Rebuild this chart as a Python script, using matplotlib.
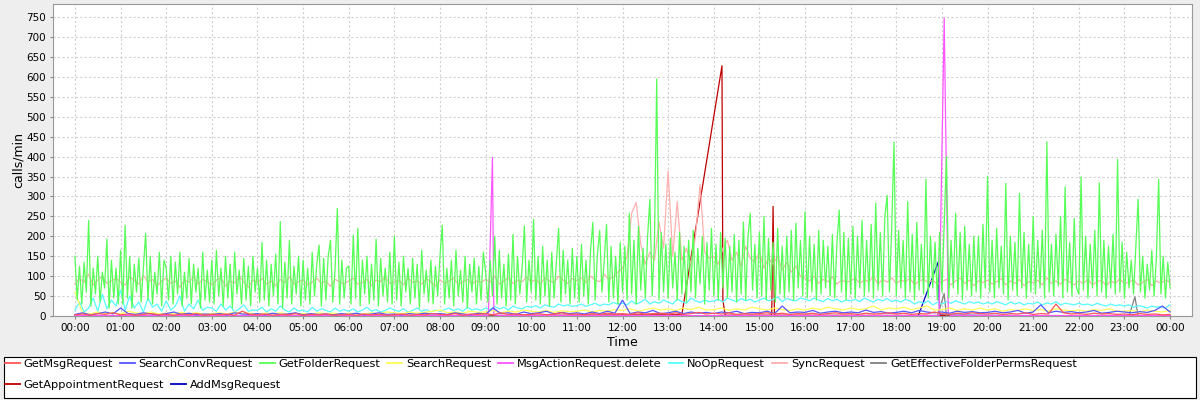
import numpy as np
import matplotlib
matplotlib.use("Agg")
import matplotlib.pyplot as plt
from matplotlib.patches import Rectangle

# serie - kolory jak w JFreeChart
names = ["GetMsgRequest", "SearchConvRequest", "GetFolderRequest", "SearchRequest",
         "MsgActionRequest.delete", "NoOpRequest", "SyncRequest",
         "GetEffectiveFolderPermsRequest", "GetAppointmentRequest", "AddMsgRequest"]
colors = ["#ff5555", "#5555ff", "#55ff55", "#ffff55", "#ff55ff", "#55ffff",
          "#ffafaf", "#808080", "#c00000", "#0000c0"]

hour_labels = ["%02d:00" % (h % 24) for h in range(25)]

# GetFolderRequest - co 3 minuty
green = [
    150, 40, 125, 30, 135, 60, 240, 25, 120, 55, 150, 35, 110, 70, 193, 20, 140, 45, 120, 30,
    165, 30, 228, 45, 150, 20, 130, 60, 145, 35, 120, 207, 40, 150, 30, 110, 55, 160, 25, 140,
    120, 40, 150, 30, 135, 55, 160, 25, 110, 45, 145, 30, 130, 60, 120, 20, 160, 40, 115, 35,
    140, 30, 165, 50, 120, 25, 150, 45, 130, 20, 160, 55, 115, 30, 145, 40, 125, 25, 150, 60,
    120, 35, 185, 40, 140, 25, 130, 50, 155, 30, 237, 20, 135, 45, 190, 30, 125, 55, 150, 25,
    140, 40, 120, 30, 160, 50, 130, 178, 25, 145, 40, 150, 190, 35, 115, 270, 30, 140, 45, 120,
    125, 30, 203, 45, 220, 25, 140, 55, 150, 30, 130, 40, 193, 25, 145, 50, 120, 35, 160, 30,
    200, 40, 135, 25, 150, 60, 120, 30, 145, 45, 130, 20, 165, 55, 115, 35, 140, 30, 125, 50,
    150, 228, 30, 120, 45, 140, 25, 165, 50, 115, 35, 150, 20, 130, 60, 145, 30, 125, 40, 160,
    110, 35, 140, 50, 200, 30, 165, 45, 130, 25, 155, 40, 205, 30, 150, 55, 120, 226, 35, 140,
    60, 243, 40, 150, 30, 175, 50, 140, 25, 160, 45, 135, 220, 35, 165, 55, 140, 30, 170, 45,
    150, 35, 180, 50, 140, 30, 165, 235, 40, 155, 215, 60, 140, 230, 35, 175, 45, 150, 30, 185,
    60, 175, 40, 258, 55, 190, 30, 225, 65, 170, 45, 200, 293, 50, 185, 595, 40, 210, 60, 180,
    45, 195, 70, 160, 40, 210, 55, 175, 35, 190, 60, 215, 45, 170, 80, 200, 30, 185, 65, 220,
    50, 180, 40, 210, 70, 195, 45, 175, 60, 205, 35, 190, 55, 236, 40, 200, 257, 65, 180, 45,
    210, 50, 250, 40, 195, 65, 185, 35, 220, 55, 175, 45, 200, 60, 215, 40, 233, 70, 190, 50,
    262, 45, 200, 60, 180, 40, 215, 55, 190, 70, 175, 50, 205, 45, 185, 266, 60, 210, 40, 195,
    55, 225, 45, 200, 70, 240, 50, 190, 60, 230, 45, 283, 65, 210, 50, 250, 303, 60, 220, 436,
    50, 215, 70, 190, 45, 287, 60, 205, 40, 235, 65, 180, 55, 343, 45, 200, 70, 185, 40, 210,
    60, 230, 400, 45, 190, 70, 258, 55, 210, 40, 225, 65, 180, 50, 200, 60, 200, 45, 230, 70,
    351, 60, 190, 45, 220, 70, 175, 55, 333, 40, 200, 65, 185, 50, 308, 70, 210, 45, 180, 60,
    250, 55, 190, 70, 215, 45, 437, 60, 180, 50, 205, 75, 250, 45, 324, 60, 185, 50, 245, 70,
    55, 349, 65, 200, 45, 180, 70, 215, 50, 334, 60, 190, 45, 175, 70, 205, 55, 393, 60, 185,
    45, 160, 70, 140, 55, 175, 293, 60, 150, 45, 130, 65, 165, 50, 145, 343, 55, 150, 45, 135,
    70]

# SyncRequest - co 6 minut
pink = [
    80, 95, 85, 105, 78, 90, 100, 82, 88, 95,
    85, 78, 98, 90, 80, 102, 86, 92, 75, 88,
    95, 82, 88, 72, 90, 85, 98, 80, 92, 86,
    78, 90, 96, 75, 88, 82, 100, 85, 72, 90,
    85, 94, 80, 88, 76, 92, 84, 98, 80, 86,
    90, 78, 85, 95, 82, 88, 74, 92, 86, 80,
    88, 95, 80, 84, 92, 76, 90, 86, 98, 82,
    85, 90, 78, 96, 84, 88, 80, 94, 86, 75,
    90, 82, 88, 95, 78, 86, 92, 80, 88, 84,
    92, 85, 100, 80, 88, 95, 82, 90, 86, 98,
    85, 92, 80, 96, 88, 84, 100, 90, 82, 94,
    88, 96, 84, 100, 90, 86, 105, 92, 98, 110,
    120, 150, 258, 285, 180, 130, 160, 140, 236, 170,
    364, 150, 287, 140, 170, 130, 200, 330, 160, 145,
    150, 130, 170, 190, 140, 160, 125, 175, 145, 135,
    160, 120, 145, 130, 150, 115, 135, 110, 125, 100,
    95, 88, 100, 82, 92, 86, 98, 80, 90, 85,
    88, 95, 82, 90, 86, 100, 80, 92, 85, 96,
    82, 90, 86, 95, 78, 88, 92, 84, 90, 80,
    86, 92, 78, 88, 95, 82, 90, 76, 88, 84,
    90, 80, 86, 94, 78, 88, 82, 92, 76, 86,
    84, 90, 78, 96, 82, 88, 80, 92, 86, 78,
    88, 82, 92, 78, 86, 90, 76, 88, 82, 94,
    80, 86, 90, 78, 84, 92, 76, 88, 82, 90,
    85]

# NoOpRequest - co 6 minut
cyan = [
    15, 35, 10, 20, 45, 12, 55, 18, 40, 25,
    65, 15, 50, 20, 35, 10, 45, 22, 30, 12,
    38, 15, 25, 50, 12, 30, 18, 40, 14, 22,
    20, 12, 30, 15, 25, 10, 18, 28, 12, 15,
    14, 22, 10, 18, 12, 25, 15, 10, 20, 12,
    15, 10, 22, 12, 18, 14, 10, 20, 12, 16,
    12, 18, 10, 15, 22, 12, 16, 10, 14, 20,
    15, 12, 18, 10, 14, 20, 12, 16, 10, 15,
    12, 16, 20, 14, 18, 12, 22, 15, 18, 14,
    20, 16, 24, 18, 22, 15, 25, 20, 18, 24,
    22, 26, 20, 28, 24, 22, 30, 25, 28, 24,
    26, 30, 24, 28, 32, 26, 30, 28, 34, 30,
    32, 28, 38, 30, 35, 42, 30, 36, 32, 40,
    35, 30, 42, 36, 32, 45, 38, 34, 40, 36,
    38, 42, 35, 45, 40, 36, 44, 38, 42, 35,
    40, 45, 38, 42, 48, 36, 44, 40, 38, 45,
    42, 38, 45, 40, 36, 44, 38, 42, 35, 40,
    38, 42, 36, 45, 40, 35, 42, 38, 44, 36,
    40, 35, 42, 38, 30, 36, 32, 38, 28, 34,
    30, 36, 32, 38, 34, 30, 36, 32, 35, 30,
    34, 30, 36, 32, 28, 35, 30, 34, 28, 32,
    30, 35, 28, 33, 30, 36, 28, 32, 30, 28,
    32, 28, 30, 26, 32, 28, 25, 30, 26, 28,
    25, 28, 22, 26, 24, 20, 25, 22, 24, 20,
    28]

# SearchRequest - co 10 minut
yellow = [
    60, 8, 5, 10, 6, 8,   5, 12, 8, 6, 10, 5,   7, 5, 9, 6, 8, 5,   6, 8, 5, 10, 6, 7,
    5, 7, 6, 8, 5, 6,     6, 5, 8, 6, 7, 5,     7, 6, 5, 8, 6, 10,  8, 6, 10, 7, 9, 12,
    15, 8, 10, 7, 12, 9,  10, 14, 8, 12, 10, 15, 12, 10, 14, 9, 13, 11, 12, 15, 10, 14, 12, 16,
    14, 18, 12, 16, 20, 15, 18, 14, 20, 16, 22, 15, 16, 20, 14, 18, 15, 22, 18, 15, 20, 16, 14, 18,
    15, 20, 16, 22, 18, 15, 20, 16, 18, 25, 15, 20, 18, 22, 16, 20, 25, 15, 16, 20, 14, 18, 15, 20,
    15, 18, 12, 16, 14, 18, 14, 16, 12, 18, 15, 13, 15, 12, 16, 14, 18, 12, 12, 14, 10, 15, 12, 10,
    14]

# GetMsgRequest - co 10 minut
red = [
    3, 5, 2, 6, 4, 8,   3, 5, 2, 4, 6, 3,   4, 2, 5, 3, 6, 2,   4, 3, 5, 2, 12, 4,
    3, 5, 2, 4, 3, 6,   2, 4, 3, 5, 2, 3,   4, 2, 5, 3, 4, 2,   3, 5, 2, 4, 3, 6,
    4, 3, 6, 2, 5, 4,   6, 3, 8, 4, 5, 3,   4, 6, 3, 5, 8, 4,   5, 3, 6, 4, 7, 5,
    6, 4, 8, 5, 6, 7,   5, 8, 4, 6, 9, 5,   7, 5, 8, 4, 6, 5,   6, 8, 5, 7, 4, 6,
    5, 7, 4, 6, 8, 5,   6, 4, 7, 5, 6, 8,   5, 7, 4, 6, 5, 10,  6, 4, 7, 5, 8, 6,
    5, 7, 4, 6, 5, 8,   4, 6, 5, 30, 8, 5,  6, 4, 7, 5, 6, 4,   5, 3, 6, 4, 5, 3,
    4]

# SearchConvRequest - co 10 minut
blue = [
    4, 8, 3, 6, 10, 5,   20, 6, 4, 8, 5, 3,   6, 10, 4, 7, 3, 5,   4, 6, 3, 8, 5, 4,
    6, 3, 7, 4, 5, 8,    3, 6, 4, 5, 3, 6,    4, 7, 3, 5, 8, 4,    5, 3, 6, 4, 7, 5,
    6, 4, 8, 5, 3, 7,    5, 20, 6, 8, 4, 10,  6, 8, 12, 5, 9, 6,   8, 5, 10, 6, 12, 7,
    40, 6, 10, 8, 14, 6, 8, 12, 6, 10, 7, 9,  6, 10, 8, 12, 6, 9,  8, 12, 6, 25, 8, 10,
    9, 14, 7, 10, 12, 8, 10, 8, 15, 9, 11, 7, 9, 12, 8, 14, 10, 8, 10, 7, 12, 9, 11, 8,
    9, 12, 8, 10, 14, 7, 10, 28, 8, 12, 9, 11, 8, 10, 14, 7, 9, 12, 10, 8, 11, 9, 14, 25,
    10]

# sporadyczne serie: (godzina, wartosc)
magenta_t = [0, 3, 6, 9.0, 9.06, 9.15, 9.18, 9.3, 12, 15, 18.9, 18.94, 19.05, 19.14, 19.2, 22, 24]
magenta_v = [1, 1, 1, 1, 2, 398, 3, 1, 1, 1, 1, 2, 747, 5, 1, 1, 1]
gray_t = [0, 6, 12, 18.9, 19.05, 19.1, 23.1, 23.23, 23.3, 24]
gray_v = [0, 0, 0, 0, 56, 0, 0, 48, 0, 0]
darkred_t = [0, 6, 13.3, 14.18, 14.2, 14.25, 15.27, 15.3, 15.33, 20, 24]
darkred_v = [0, 0, 3, 628, 40, 2, 2, 275, 2, 1, 1]
darkblue_t = [0, 6, 12, 18.48, 18.92, 18.95, 21, 24]
darkblue_v = [1, 1, 1, 0, 136, 2, 1, 1]

series = [
    (np.arange(len(red)) / 6.0, red),
    (np.arange(len(blue)) / 6.0, blue),
    (np.arange(len(green)) / 20.0, green),
    (np.arange(len(yellow)) / 6.0, yellow),
    (magenta_t, magenta_v),
    (np.arange(len(cyan)) / 10.0, cyan),
    (np.arange(len(pink)) / 10.0, pink),
    (gray_t, gray_v),
    (darkred_t, darkred_v),
    (darkblue_t, darkblue_v),
]

fig = plt.figure(figsize=(12, 4), dpi=100, facecolor="#eeeeee")
ax = fig.add_axes([0.0442, 0.21, 0.9491, 0.78])
ax.set_facecolor("white")

handles = [None] * len(series)
# pierwsza seria rysowana na koncu (na wierzchu)
for i in reversed(range(len(series))):
    t, v = series[i]
    handles[i], = ax.plot(t, v, color=colors[i], lw=0.9, zorder=10 - i)

ax.set_xlim(-0.48, 24.48)
ax.set_ylim(0, 783)
ax.set_xticks(range(25))
ax.set_xticklabels(hour_labels)
ax.set_yticks(range(0, 751, 50))
ax.grid(True, color="#d0d0d0", ls=(0, (2, 2)), lw=0.8)
ax.set_axisbelow(True)
ax.tick_params(labelsize=7.5, length=2, color="#888888", pad=3)
for s in ax.spines.values():
    s.set_color("#999999")
ax.set_ylabel("calls/min", fontsize=9, labelpad=1)
ax.set_xlabel("Time", fontsize=9, labelpad=2)

# legenda - ramka + dwa wiersze
fig.add_artist(Rectangle((0.0033, 0.005), 0.9934, 0.103, transform=fig.transFigure,
                         facecolor="white", edgecolor="black", lw=0.8))
kw = dict(frameon=False, fontsize=8.2, handlelength=1.3, handletextpad=0.35,
          columnspacing=0.6, borderaxespad=0, borderpad=0)
leg1 = fig.legend(handles[:8], names[:8], ncol=8, loc="upper left",
                  bbox_to_anchor=(0.004, 0.103), **kw)
leg2 = fig.legend(handles[8:], names[8:], ncol=2, loc="upper left",
                  bbox_to_anchor=(0.004, 0.05), **kw)
for leg in (leg1, leg2):
    for ln in leg.get_lines():
        ln.set_linewidth(1.3)

plt.savefig("out.png", dpi=100, facecolor=fig.get_facecolor())
